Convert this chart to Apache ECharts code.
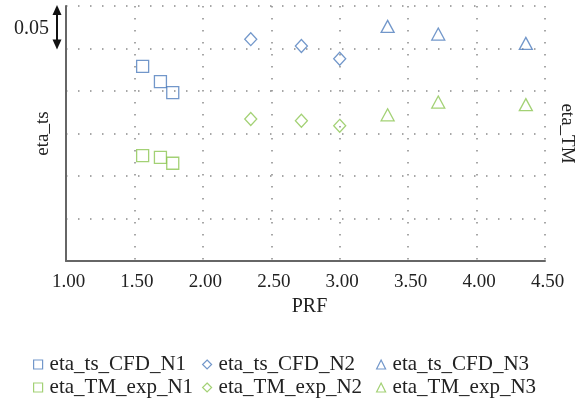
<!DOCTYPE html>
<html><head><meta charset="utf-8">
<script src="https://cdn.jsdelivr.net/npm/echarts@6/dist/echarts.min.js"></script>
<style>html,body{margin:0;padding:0;background:#fff}#c{width:584px;height:402px}</style>
</head><body><div id="c"></div>
<script>
// ---- data ----
const xTicks = ['1.00','1.50','2.00','2.50','3.00','3.50','4.00','4.50'];
const seriesNames = ['eta_ts_CFD_N1','eta_ts_CFD_N2','eta_ts_CFD_N3','eta_TM_exp_N1','eta_TM_exp_N2','eta_TM_exp_N3'];
const tsN1_x = [1.56, 1.69, 1.78];
const tsN1_y = [0.229, 0.211, 0.198];
const tsN2_x = [2.35, 2.72, 3.00];
const tsN2_y = [0.261, 0.253, 0.238];
const tsN3_x = [3.35, 3.72, 4.36];
const tsN3_y = [0.276, 0.267, 0.256];
const tmN1_x = [1.56, 1.69, 1.78];
const tmN1_y = [0.124, 0.122, 0.115];
const tmN2_x = [2.35, 2.72, 3.00];
const tmN2_y = [0.167, 0.165, 0.159];
const tmN3_x = [3.35, 3.72, 4.36];
const tmN3_y = [0.172, 0.187, 0.184];
const scaleLabel = '0.05';

const BLUE = '#4f7dbd', GREEN = '#8cc653';
const FONT = 'Liberation Serif';
const pair = (xs, ys) => xs.map((x, i) => [x, ys[i]]);
const defs = [
  [tsN1_x, tsN1_y, 'rect', BLUE, 0],
  [tsN2_x, tsN2_y, 'diamond', BLUE, 0],
  [tsN3_x, tsN3_y, 'triangle', BLUE, 0],
  [tmN1_x, tmN1_y, 'rect', GREEN, 1],
  [tmN2_x, tmN2_y, 'diamond', GREEN, 1],
  [tmN3_x, tmN3_y, 'triangle', GREEN, 1]
];
const series = defs.map((d, i) => ({
  name: seriesNames[i], type: 'scatter', yAxisIndex: d[4],
  symbol: d[2], symbolSize: d[2] === 'rect' ? 12 : (d[2] === 'diamond' ? [12, 13] : [13, 12]),
  itemStyle: { color: 'rgba(255,255,255,0)', borderColor: d[3], borderWidth: 1.3 },
  data: pair(d[0], d[1])
}));

const legendPos = [[33, 354], [202, 354], [376, 354], [33, 377], [202, 377], [376, 377]];
const legends = seriesNames.map((n, i) => ({
  data: [{ name: n, icon: defs[i][2] }],
  left: legendPos[i][0], top: legendPos[i][1], padding: 0,
  itemWidth: 9, itemHeight: 9, itemGap: 0,
  textStyle: { fontFamily: FONT, fontSize: 21, color: '#222', padding: [0, 0, 0, 2] },
  itemStyle: { color: 'rgba(255,255,255,0)', borderColor: defs[i][3], borderWidth: 1.2 }
}));

const dotted = { type: [1.5, 10.5], width: 1.5, color: '#8a8a8a' };
const yAxisBase = {
  type: 'value', min: 0, max: 0.30, interval: 0.05,
  axisLabel: { show: false }, axisTick: { show: false },
  nameLocation: 'middle',
  nameTextStyle: { fontFamily: FONT, fontSize: 19, color: '#222' }
};

const chart = echarts.init(document.getElementById('c'), null, { renderer: 'canvas' });
chart.setOption({
  animation: false,
  grid: { left: 66, right: 34, top: 6, bottom: 141 },
  xAxis: {
    type: 'value', min: 1, max: 4.5, interval: 0.5,
    axisLine: { show: true, lineStyle: { color: '#666', width: 2 } },
    axisTick: { show: false },
    axisLabel: { formatter: v => xTicks[Math.round((v - 1) / 0.5)], fontFamily: FONT, fontSize: 19, color: '#222', margin: 12, padding: [0, 0, 0, 5] },
    splitLine: { show: true, lineStyle: dotted },
    name: 'PRF', nameLocation: 'middle', nameGap: 34,
    nameTextStyle: { fontFamily: FONT, fontSize: 20, color: '#222', padding: [0, 0, 0, 8] }
  },
  yAxis: [
    Object.assign({}, yAxisBase, {
      position: 'left', name: 'eta_ts', nameGap: 13, nameRotate: 90,
      axisLine: { show: true, lineStyle: { color: '#666', width: 2 } },
      splitLine: { show: true, lineStyle: dotted }
    }),
    Object.assign({}, yAxisBase, {
      position: 'right', name: 'eta_TM', nameGap: 12, nameRotate: -90,
      axisLine: { show: false }, splitLine: { show: false }
    })
  ],
  legend: legends,
  series: series
});

// scale annotation: double arrow spanning one grid interval
const yTop = chart.convertToPixel({ yAxisIndex: 0 }, 0.30);
const yBot = chart.convertToPixel({ yAxisIndex: 0 }, 0.25);
const ax = chart.convertToPixel({ xAxisIndex: 0 }, 1.0) - 9;
chart.setOption({
  graphic: [
    { type: 'line', shape: { x1: ax, y1: yTop + 4, x2: ax, y2: yBot - 4 }, style: { stroke: '#111', lineWidth: 2 } },
    { type: 'polygon', shape: { points: [[ax - 4.5, yTop + 9], [ax + 4.5, yTop + 9], [ax, yTop - 1]] }, style: { fill: '#111' } },
    { type: 'polygon', shape: { points: [[ax - 4.5, yBot - 9], [ax + 4.5, yBot - 9], [ax, yBot + 1]] }, style: { fill: '#111' } },
    { type: 'text', style: { text: scaleLabel, x: ax - 8, y: (yTop + yBot) / 2 + 1, align: 'right', verticalAlign: 'middle', font: '20px "Liberation Serif"', fill: '#222' } }
  ]
});
</script></body></html>
